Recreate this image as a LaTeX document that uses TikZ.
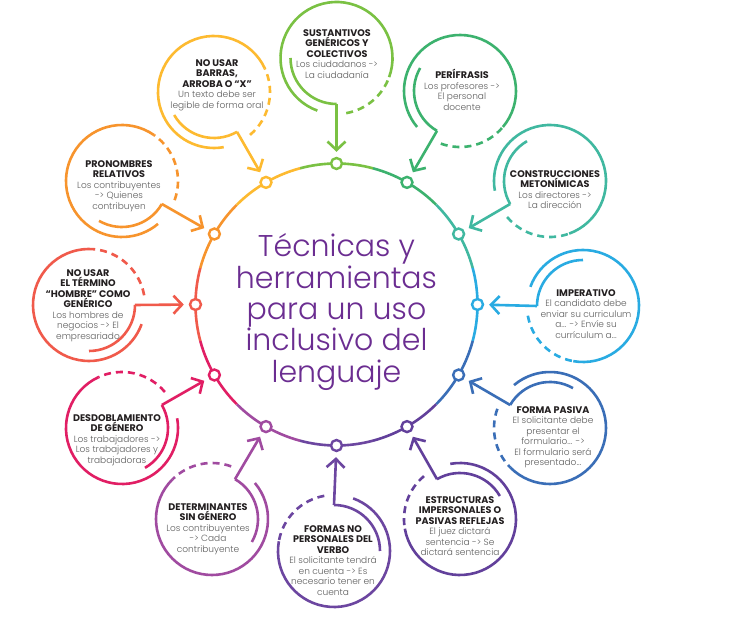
\documentclass[tikz,border=0pt]{standalone}
\usepackage{fontspec}
\setmainfont{Poppins}
\newfontfamily\lightFont{Poppins Light}
\usepackage{xcolor}
\usepackage{tikz}
\usetikzlibrary{arrows.meta,positioning}

\definecolor{fillColor}{RGB}{255,255,255}
\definecolor{titleColor}{RGB}{107,45,145}
\definecolor{headColor}{RGB}{35,31,32}
\definecolor{descColor}{RGB}{95,95,95}
\definecolor{sustColor}{RGB}{122,193,67}
\definecolor{periColor}{RGB}{60,178,110}
\definecolor{consColor}{RGB}{64,184,160}
\definecolor{impeColor}{RGB}{41,171,226}
\definecolor{pasiColor}{RGB}{58,110,183}
\definecolor{estrColor}{RGB}{98,64,155}
\definecolor{formColor}{RGB}{108,70,160}
\definecolor{deteColor}{RGB}{160,75,160}
\definecolor{desdColor}{RGB}{225,30,100}
\definecolor{hombColor}{RGB}{240,90,75}
\definecolor{pronColor}{RGB}{247,148,45}
\definecolor{barrColor}{RGB}{253,186,48}

\begin{document}
\begin{tikzpicture}[x=1pt,y=1pt,
  ringLine/.style={line width=2.6pt},
  bubbleLine/.style={line width=2.6pt},
  dashLine/.style={line width=2.6pt,dash pattern=on 7pt off 5pt},
  ringDot/.style={circle,draw,fill=fillColor,line width=2.4pt,minimum size=11pt,inner sep=0pt},
  stemArrow/.style={line width=2.6pt,-{Straight Barb[length=8.5pt,width=18pt]},shorten >=5pt},
  headText/.style={font=\fontsize{9.6}{10.5}\selectfont\bfseries,text=headColor,align=center,inner sep=0pt,anchor=north},
  descText/.style={font=\fontsize{9}{10.5}\selectfont\lightFont,text=descColor,align=center,inner sep=0pt},
  titleText/.style={font=\fontsize{30}{31.3}\selectfont\lightFont,text=titleColor,align=center,inner sep=0pt}]
\path[use as bounding box,fill=fillColor] (0,0) rectangle (729,619);

\coordinate (hub) at (336.5,314.5);

\draw[ringLine,draw=sustColor] ([shift={(105:141)}]hub) arc[start angle=105,end angle=75,radius=141];
\draw[ringLine,draw=periColor] ([shift={(75:141)}]hub) arc[start angle=75,end angle=45,radius=141];
\draw[ringLine,draw=consColor] ([shift={(45:141)}]hub) arc[start angle=45,end angle=15,radius=141];
\draw[ringLine,draw=impeColor] ([shift={(15:141)}]hub) arc[start angle=15,end angle=-15,radius=141];
\draw[ringLine,draw=pasiColor] ([shift={(-15:141)}]hub) arc[start angle=-15,end angle=-45,radius=141];
\draw[ringLine,draw=estrColor] ([shift={(-45:141)}]hub) arc[start angle=-45,end angle=-75,radius=141];
\draw[ringLine,draw=formColor] ([shift={(-75:141)}]hub) arc[start angle=-75,end angle=-105,radius=141];
\draw[ringLine,draw=deteColor] ([shift={(-105:141)}]hub) arc[start angle=-105,end angle=-135,radius=141];
\draw[ringLine,draw=desdColor] ([shift={(-135:141)}]hub) arc[start angle=-135,end angle=-165,radius=141];
\draw[ringLine,draw=hombColor] ([shift={(-165:141)}]hub) arc[start angle=-165,end angle=-195,radius=141];
\draw[ringLine,draw=pronColor] ([shift={(165:141)}]hub) arc[start angle=165,end angle=135,radius=141];
\draw[ringLine,draw=barrColor] ([shift={(135:141)}]hub) arc[start angle=135,end angle=105,radius=141];

\node[ringDot,draw=sustColor] (dot1) at (336.5,455.5) {};
\node[ringDot,draw=periColor] (dot2) at (407,436.6) {};
\node[ringDot,draw=consColor] (dot3) at (458.6,385) {};
\node[ringDot,draw=impeColor] (dot4) at (477.5,314.5) {};
\node[ringDot,draw=pasiColor] (dot5) at (458.6,244) {};
\node[ringDot,draw=estrColor] (dot6) at (407,192.4) {};
\node[ringDot,draw=formColor] (dot7) at (336.5,173.5) {};
\node[ringDot,draw=deteColor] (dot8) at (266,192.4) {};
\node[ringDot,draw=desdColor] (dot9) at (214.4,244) {};
\node[ringDot,draw=hombColor] (dot10) at (195.5,314.5) {};
\node[ringDot,draw=pronColor] (dot11) at (214.4,385) {};
\node[ringDot,draw=barrColor] (dot12) at (266,436.6) {};

\node[titleText] (mainTitle) at (336.5,307) {Técnicas y\\herramientas\\para un uso\\inclusivo del\\lenguaje};

\coordinate (b1) at (336.5,561);
\coordinate (b2) at (460,528);
\coordinate (b3) at (550,438);
\coordinate (b4) at (583,313);
\coordinate (b5) at (550,191);
\coordinate (b6) at (460,100);
\coordinate (b7) at (334,68);
\coordinate (b8) at (212,100);
\coordinate (b9) at (122,191);
\coordinate (b10) at (89,314);
\coordinate (b11) at (122,438);
\coordinate (b12) at (214,527);

\coordinate (tail1) at ([shift={(270:46)}]b1);
\coordinate (tail2) at ([shift={(240:46)}]b2);
\coordinate (tail3) at ([shift={(210:46)}]b3);
\coordinate (tail4) at ([shift={(180:46)}]b4);
\coordinate (tail5) at ([shift={(150:46)}]b5);
\coordinate (tail6) at ([shift={(120:46)}]b6);
\coordinate (tail7) at ([shift={(90:46)}]b7);
\coordinate (tail8) at ([shift={(60:46)}]b8);
\coordinate (tail9) at ([shift={(30:46)}]b9);
\coordinate (tail10) at ([shift={(0:46)}]b10);
\coordinate (tail11) at ([shift={(-30:46)}]b11);
\coordinate (tail12) at ([shift={(-60:46)}]b12);

\draw[bubbleLine,draw=sustColor] (tail1) arc[start angle=270,end angle=180,radius=46];
\draw[dashLine,draw=sustColor] ([shift={(280:56)}]b1) arc[start angle=280,end angle=340,radius=56];
\draw[bubbleLine,draw=sustColor] ([shift={(340:56)}]b1) arc[start angle=340,end angle=610,radius=56];
\draw[stemArrow,draw=sustColor] (tail1) -- (dot1);

\draw[bubbleLine,draw=periColor] (tail2) arc[start angle=240,end angle=150,radius=46];
\draw[dashLine,draw=periColor] ([shift={(250:56)}]b2) arc[start angle=250,end angle=320,radius=56];
\draw[bubbleLine,draw=periColor] ([shift={(320:56)}]b2) arc[start angle=320,end angle=580,radius=56];
\draw[stemArrow,draw=periColor] (tail2) -- (dot2);

\draw[bubbleLine,draw=consColor] (tail3) arc[start angle=210,end angle=120,radius=46];
\draw[dashLine,draw=consColor] ([shift={(220:56)}]b3) arc[start angle=220,end angle=290,radius=56];
\draw[bubbleLine,draw=consColor] ([shift={(290:56)}]b3) arc[start angle=290,end angle=550,radius=56];
\draw[stemArrow,draw=consColor] (tail3) -- (dot3);

\draw[bubbleLine,draw=impeColor] (tail4) arc[start angle=180,end angle=90,radius=46];
\draw[dashLine,draw=impeColor] ([shift={(190:56)}]b4) arc[start angle=190,end angle=260,radius=56];
\draw[bubbleLine,draw=impeColor] ([shift={(260:56)}]b4) arc[start angle=260,end angle=520,radius=56];
\draw[stemArrow,draw=impeColor] (tail4) -- (dot4);

\draw[bubbleLine,draw=pasiColor] (tail5) arc[start angle=150,end angle=60,radius=46];
\draw[dashLine,draw=pasiColor] ([shift={(160:56)}]b5) arc[start angle=160,end angle=225,radius=56];
\draw[bubbleLine,draw=pasiColor] ([shift={(225:56)}]b5) arc[start angle=225,end angle=490,radius=56];
\draw[stemArrow,draw=pasiColor] (tail5) -- (dot5);

\draw[bubbleLine,draw=estrColor] (tail6) arc[start angle=120,end angle=30,radius=46];
\draw[dashLine,draw=estrColor] ([shift={(130:56)}]b6) arc[start angle=130,end angle=190,radius=56];
\draw[bubbleLine,draw=estrColor] ([shift={(190:56)}]b6) arc[start angle=190,end angle=460,radius=56];
\draw[stemArrow,draw=estrColor] (tail6) -- (dot6);

\draw[bubbleLine,draw=formColor] (tail7) arc[start angle=90,end angle=0,radius=46];
\draw[dashLine,draw=formColor] ([shift={(100:56)}]b7) arc[start angle=100,end angle=170,radius=56];
\draw[bubbleLine,draw=formColor] ([shift={(170:56)}]b7) arc[start angle=170,end angle=430,radius=56];
\draw[stemArrow,draw=formColor] (tail7) -- (dot7);

\draw[bubbleLine,draw=deteColor] (tail8) arc[start angle=60,end angle=-30,radius=46];
\draw[dashLine,draw=deteColor] ([shift={(70:56)}]b8) arc[start angle=70,end angle=135,radius=56];
\draw[bubbleLine,draw=deteColor] ([shift={(135:56)}]b8) arc[start angle=135,end angle=400,radius=56];
\draw[stemArrow,draw=deteColor] (tail8) -- (dot8);

\draw[bubbleLine,draw=desdColor] (tail9) arc[start angle=30,end angle=-60,radius=46];
\draw[dashLine,draw=desdColor] ([shift={(40:56)}]b9) arc[start angle=40,end angle=115,radius=56];
\draw[bubbleLine,draw=desdColor] ([shift={(115:56)}]b9) arc[start angle=115,end angle=370,radius=56];
\draw[stemArrow,draw=desdColor] (tail9) -- (dot9);

\draw[bubbleLine,draw=hombColor] (tail10) arc[start angle=0,end angle=-90,radius=46];
\draw[dashLine,draw=hombColor] ([shift={(10:56)}]b10) arc[start angle=10,end angle=85,radius=56];
\draw[bubbleLine,draw=hombColor] ([shift={(85:56)}]b10) arc[start angle=85,end angle=340,radius=56];
\draw[stemArrow,draw=hombColor] (tail10) -- (dot10);

\draw[bubbleLine,draw=pronColor] (tail11) arc[start angle=-30,end angle=-120,radius=46];
\draw[dashLine,draw=pronColor] ([shift={(-20:56)}]b11) arc[start angle=-20,end angle=55,radius=56];
\draw[bubbleLine,draw=pronColor] ([shift={(55:56)}]b11) arc[start angle=55,end angle=310,radius=56];
\draw[stemArrow,draw=pronColor] (tail11) -- (dot11);

\draw[bubbleLine,draw=barrColor] (tail12) arc[start angle=-60,end angle=-150,radius=46];
\draw[dashLine,draw=barrColor] ([shift={(-50:56)}]b12) arc[start angle=-50,end angle=25,radius=56];
\draw[bubbleLine,draw=barrColor] ([shift={(25:56)}]b12) arc[start angle=25,end angle=280,radius=56];
\draw[stemArrow,draw=barrColor] (tail12) -- (dot12);

\node[headText] (head1) at (337,590) {SUSTANTIVOS\\GENÉRICOS Y\\COLECTIVOS};
\node[descText,below=3.5pt of head1] (desc1) {Los ciudadanos ->\\La ciudadanía};

\node[headText] (head2) at (462,550) {PERÍFRASIS};
\node[descText,below=3.5pt of head2] (desc2) {Los profesores ->\\El personal\\docente};

\node[headText] (head3) at (555,449) {CONSTRUCCIONES\\METONÍMICAS};
\node[descText,below=3.5pt of head3] (desc3) {Los directores ->\\La dirección};

\node[headText] (head4) at (586,330) {IMPERATIVO};
\node[descText,below=3.5pt of head4] (desc4) {El candidato debe\\enviar su curriculum\\a... -> Envíe su\\currículum a...};

\node[headText] (head5) at (553,213) {FORMA PASIVA};
\node[descText,below=3.5pt of head5] (desc5) {El solicitante debe\\presentar el\\formulario... ->\\El formulario será\\presentado...};

\node[headText] (head6) at (460,123) {ESTRUCTURAS\\IMPERSONALES O\\PASIVAS REFLEJAS};
\node[descText,below=3.5pt of head6] (desc6) {El juez dictará\\sentencia -> Se\\dictará sentencia};

\node[headText] (head7) at (333,94) {FORMAS NO\\PERSONALES DEL\\VERBO};
\node[descText,below=3.5pt of head7] (desc7) {El solicitante tendrá\\en cuenta -> Es\\necesario tener en\\cuenta};

\node[headText] (head8) at (208,116) {DETERMINANTES\\SIN GÉNERO};
\node[descText,below=3.5pt of head8] (desc8) {Los contribuyentes\\-> Cada\\contribuyente};

\node[headText] (head9) at (117,205) {DESDOBLAMIENTO\\DE GÉNERO};
\node[descText,below=3.5pt of head9] (desc9) {Los trabajadores ->\\Los trabajadores y\\trabajadoras};

\node[headText] (head10) at (88,350) {NO USAR\\EL TÉRMINO\\“HOMBRE” COMO\\GENÉRICO};
\node[descText,below=3.5pt of head10] (desc10) {Los hombres de\\negocios -> El\\empresariado};

\node[headText] (head11) at (119,459) {PRONOMBRES\\RELATIVOS};
\node[descText,below=3.5pt of head11] (desc11) {Los contribuyentes\\-> Quienes\\contribuyen};

\node[headText] (head12) at (217,560) {NO USAR\\BARRAS,\\ARROBA O “X”};
\node[descText,below=3.5pt of head12] (desc12) {Un texto debe ser\\legible de forma oral};
\end{tikzpicture}
\end{document}
